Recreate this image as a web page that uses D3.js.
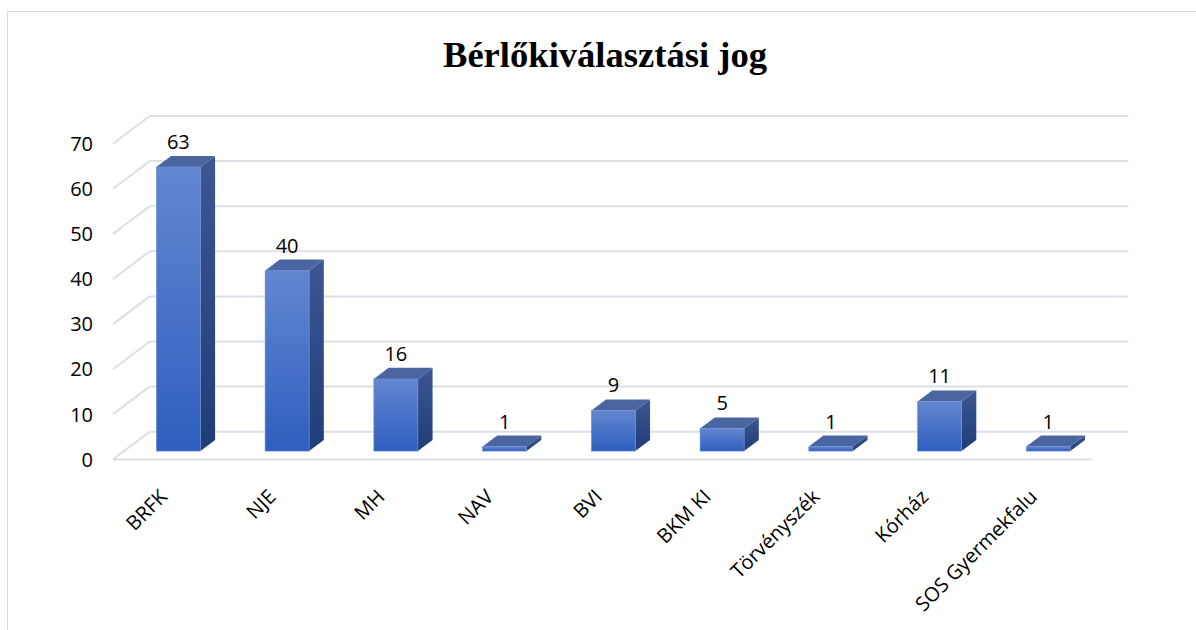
<!DOCTYPE html>
<html>
<head>
<meta charset="utf-8">
<script src="https://cdn.jsdelivr.net/npm/d3@7"></script>
<style>
  body { margin: 0; background: #fff; }
  svg { display: block; }
</style>
</head>
<body>
<svg id="chart" width="1196" height="630"></svg>
<script>
const categories = ["BRFK", "NJE", "MH", "NAV", "BVI", "BKM KI", "Törvényszék", "Kórház", "SOS Gyermekfalu"];
const values = [63, 40, 16, 1, 9, 5, 1, 11, 1];
const yTicks = [0, 10, 20, 30, 40, 50, 60, 70];
const title = "Bérlőkiválasztási jog";

const svg = d3.select("#chart");

// depth of the 3D floor (back wall offset)
const DX = 36.7, DY = -27.7;
const barFront = 0.3, barBack = 0.7;

const x = d3.scaleBand().domain(categories).range([113, 1091.7]);
const y = d3.scaleLinear().domain([0, 70]).range([459.4, 143.7]);
const barW = x.bandwidth() * 0.405;

// gradients
const defs = svg.append("defs");
function grad(id, c1, c2) {
    const g = defs.append("linearGradient").attr("id", id)
        .attr("x1", 0).attr("y1", 0).attr("x2", 0).attr("y2", 1);
    g.append("stop").attr("offset", "0%").attr("stop-color", c1);
    g.append("stop").attr("offset", "100%").attr("stop-color", c2);
}
grad("gFront", "#6386d0", "#2e5fbf");
grad("gSide", "#3c5792", "#1f3d78");

// outer border
svg.append("rect")
    .attr("x", 7.5).attr("y", 11.5)
    .attr("width", 1300).attr("height", 700)
    .attr("fill", "none").attr("stroke", "#d9d9d9").attr("stroke-width", 1);

// title
svg.append("text")
    .attr("x", 605).attr("y", 67)
    .attr("text-anchor", "middle")
    .attr("font-family", "Liberation Serif, Times New Roman, serif")
    .attr("font-weight", "bold")
    .attr("font-size", 36)
    .attr("textLength", 324)
    .attr("lengthAdjust", "spacingAndGlyphs")
    .attr("fill", "#000")
    .text(title);

// grid: back wall lines and left wall slants
const grid = svg.append("g")
    .attr("stroke", "#dcdfe6").attr("stroke-width", 2).attr("fill", "none");
const [x0, x1] = x.range();
yTicks.forEach(v => {
    grid.append("line")
        .attr("x1", x0 + DX).attr("x2", x1 + DX)
        .attr("y1", y(v) + DY).attr("y2", y(v) + DY);
    grid.append("line")
        .attr("x1", x0).attr("x2", x0 + DX)
        .attr("y1", y(v)).attr("y2", y(v) + DY);
});
grid.append("line")
    .attr("x1", x0).attr("x2", x1)
    .attr("y1", y(0)).attr("y2", y(0));

// y axis labels
svg.append("g").selectAll("text")
    .data(yTicks).join("text")
    .attr("x", 93).attr("y", d => y(d))
    .attr("dy", "0.36em")
    .attr("text-anchor", "end")
    .attr("font-family", "Open Sans, sans-serif")
    .attr("font-size", 20)
    .attr("fill", "#000")
    .text(d => d);

// bars
const bars = svg.append("g").selectAll("g")
    .data(categories.map((c, i) => ({ c, v: values[i] })))
    .join("g");

bars.each(function (d) {
    const g = d3.select(this);
    const cx = x(d.c) + x.bandwidth() / 2;
    const fx = cx - barW / 2 + barFront * DX;
    const fy0 = y(0) + barFront * DY;
    const fy1 = y(d.v) + barFront * DY;
    const ddx = (barBack - barFront) * DX, ddy = (barBack - barFront) * DY;

    // side
    g.append("path")
        .attr("d", `M${fx + barW},${fy1} L${fx + barW + ddx},${fy1 + ddy} L${fx + barW + ddx},${fy0 + ddy} L${fx + barW},${fy0} Z`)
        .attr("fill", "url(#gSide)");
    // top
    g.append("path")
        .attr("d", `M${fx},${fy1} L${fx + ddx},${fy1 + ddy} L${fx + barW + ddx},${fy1 + ddy} L${fx + barW},${fy1} Z`)
        .attr("fill", "#4a659f");
    // front
    g.append("rect")
        .attr("x", fx).attr("y", fy1)
        .attr("width", barW).attr("height", fy0 - fy1)
        .attr("fill", "url(#gFront)")
        .attr("stroke", "#6d8fd8").attr("stroke-width", 0.6);

    // value label
    g.append("text")
        .attr("x", fx + barW / 2)
        .attr("y", fy1 + ddy - 7)
        .attr("text-anchor", "middle")
        .attr("font-family", "Open Sans, sans-serif")
        .attr("font-size", 20)
        .attr("fill", "#000")
        .text(d.v);
});

// category labels
svg.append("g").selectAll("text")
    .data(categories).join("text")
    .attr("transform", d => `translate(${x(d) + x.bandwidth() / 2 + 1},${498}) rotate(-45)`)
    .attr("text-anchor", "end")
    .attr("font-family", "Open Sans, sans-serif")
    .attr("font-size", 20)
    .attr("fill", "#000")
    .text(d => d);
</script>
</body>
</html>
